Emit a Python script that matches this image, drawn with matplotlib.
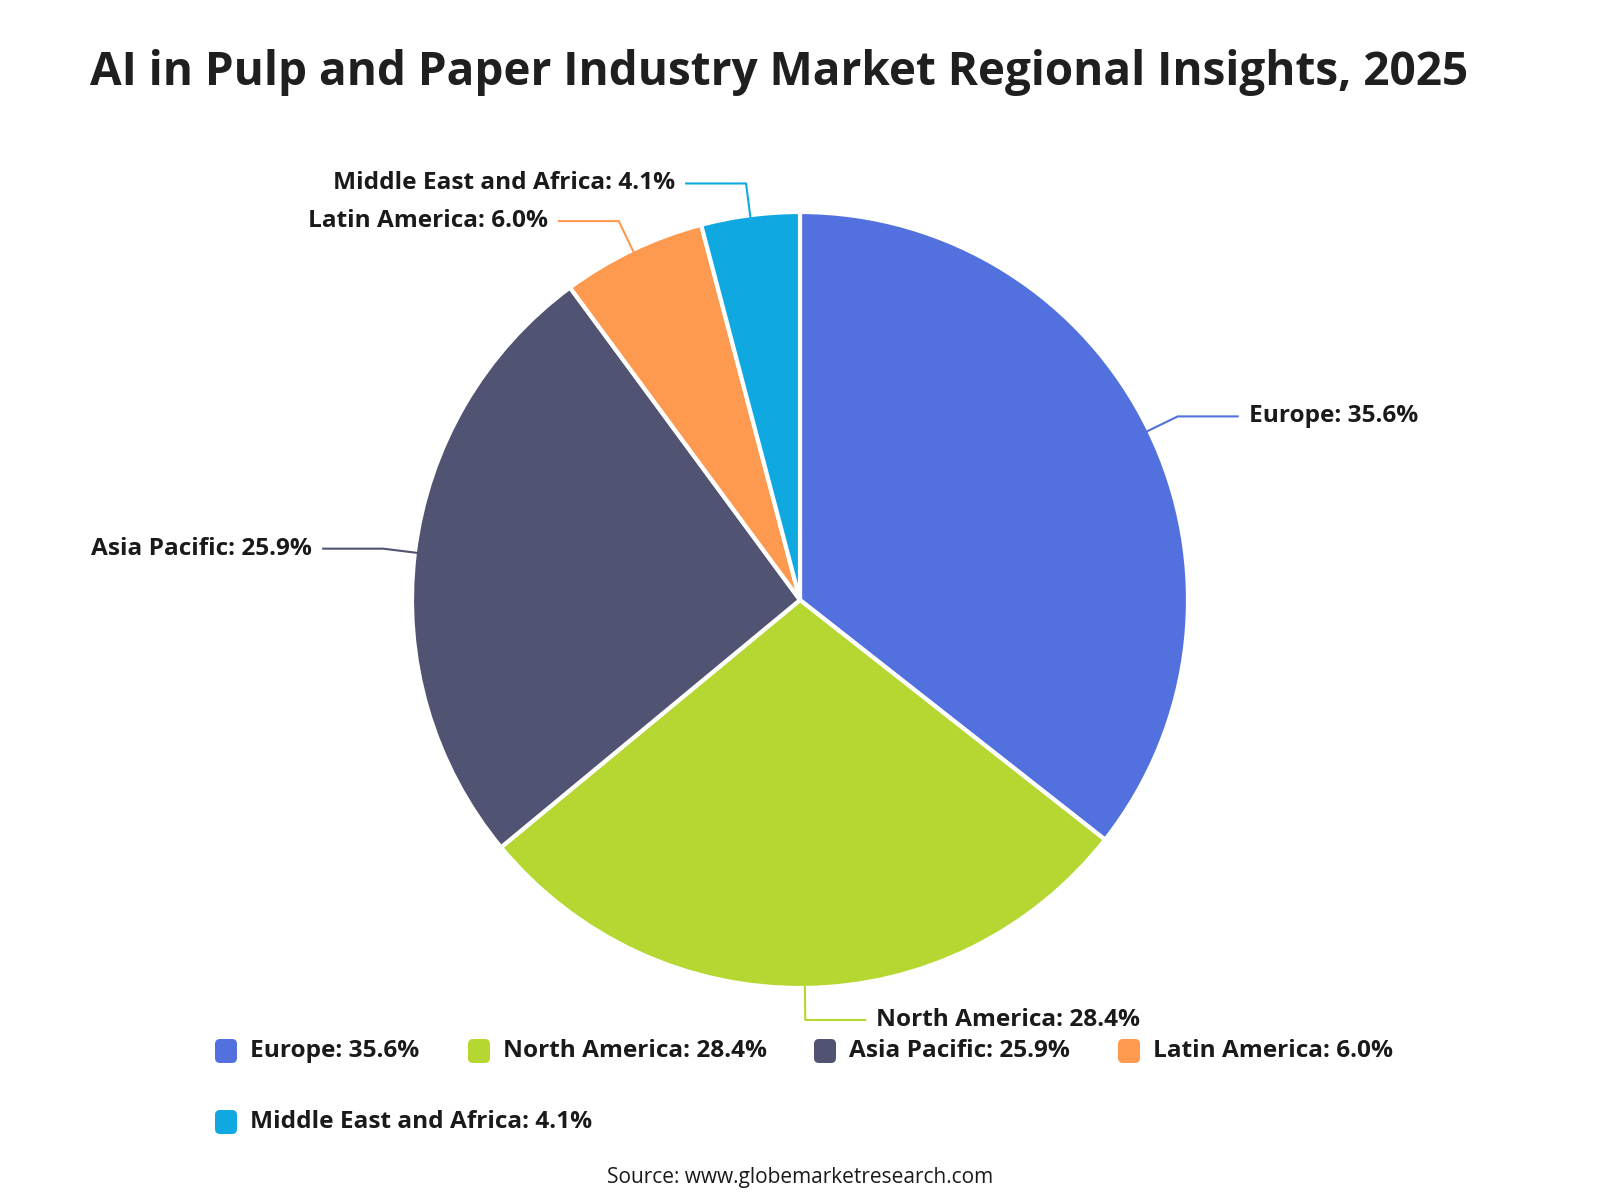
import numpy as np
import matplotlib
matplotlib.use('Agg')
import matplotlib.pyplot as plt
from matplotlib.patches import FancyBboxPatch

regions = ['Europe', 'North America', 'Asia Pacific', 'Latin America', 'Middle East and Africa']
shares = [35.6, 28.4, 25.9, 6.0, 4.1]
colors = ['#5271DF', '#B6D732', '#505372', '#FE9A4F', '#0FA8E0']

title = 'AI in Pulp and Paper Industry Market Regional Insights, 2025'
source = 'Source: www.globemarketresearch.com'

plt.rcParams['font.family'] = ['Open Sans', 'DejaVu Sans']

W, H = 1600, 1200
fig = plt.figure(figsize=(16, 12), dpi=100)
ax = fig.add_axes([0, 0, 1, 1])

cx, cy, r = 800, H - 600, 388
wedges, _ = ax.pie(shares, colors=colors, startangle=90, counterclock=False,
                   center=(cx, cy), radius=r,
                   wedgeprops=dict(edgecolor='white', linewidth=3, joinstyle='round'))
ax.set_xlim(0, W)
ax.set_ylim(0, H)
ax.set_aspect('equal')
ax.axis('off')

lab_fs = 17.6

# leader lines and labels
for w, name, val, col in zip(wedges, regions, shares, colors):
    ang = np.deg2rad((w.theta1 + w.theta2) / 2)
    ca, sa = np.cos(ang), np.sin(ang)
    x0, y0 = cx + (r - 4) * ca, cy + (r - 4) * sa
    x1, y1 = cx + (r + 32) * ca, cy + (r + 32) * sa
    side = 1 if ca >= 0 else -1
    x2 = x1 + side * 61
    ax.plot([x0, x1, x2], [y0, y1, y1], color=col, lw=1.5, solid_capstyle='butt')
    ax.text(x2 + side * 10, y1, f'{name}: {val:.1f}%', ha='left' if side > 0 else 'right',
            va='center', fontsize=lab_fs, fontweight='bold', color='#1a1a1a')

# title
ax.text(90, H - 73, title, ha='left', va='center', fontsize=33, fontweight='bold', color='#1f1f1f')

# legend
leg_pos = [(226, 1051), (479, 1051), (825, 1051), (1129, 1051), (226, 1122)]
for (lx, ly), name, val, col in zip(leg_pos, regions, shares, colors):
    ax.add_patch(FancyBboxPatch((lx - 11, H - ly - 12), 22, 24,
                                boxstyle='round,pad=0,rounding_size=5',
                                facecolor=col, edgecolor='none'))
    ax.text(lx + 24, H - ly, f'{name}: {val:.1f}%', ha='left', va='center',
            fontsize=lab_fs, fontweight='bold', color='#1a1a1a')

ax.text(800, H - 1177, source, ha='center', va='center', fontsize=15, color='#1a1a1a')

fig.savefig('out.png', dpi=100)
